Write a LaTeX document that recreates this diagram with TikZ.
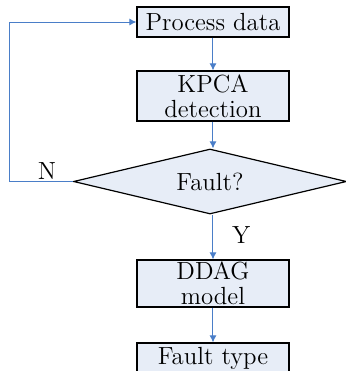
\documentclass[tikz,border=0pt]{standalone}
\usepackage{fontspec}
\usepackage{tikz}
\usetikzlibrary{shapes.geometric,arrows.meta,positioning}
\usepackage{xcolor}
\definecolor{boxfill}{HTML}{E7EDF7}
\definecolor{flowblue}{HTML}{4A7EC8}

\begin{document}
\begin{tikzpicture}[
    x=0.5pt, y=-0.5pt,
    every node/.style={font=\rmfamily\fontsize{12.4}{12.5}\selectfont, text=black},
    block/.style={rectangle, draw, line width=0.6pt, fill=boxfill, minimum width=76pt, inner sep=0pt, align=center},
    decision/.style={diamond, draw, line width=0.6pt, fill=boxfill, aspect=4.2, minimum width=136.5pt, minimum height=32.5pt, inner sep=0pt},
    arrow/.style={-{Latex[length=3.5pt,width=3.5pt]}, flowblue, line width=0.5pt}
]
    \clip (0,0) rectangle (346,371);

    % Boxes
    \node[block, minimum height=15pt] (data) at (213, 22) {Process data};
    \node[block, minimum height=25pt] (kpca) at (213, 96) {KPCA\\detection};
    \node[decision] (fault) at (210, 181.5) {Fault?};
    \node[block, minimum height=23.5pt] (ddag) at (213, 283.5) {DDAG\\model};
    \node[block, minimum height=15pt] (type) at (213, 358) {Fault type};

    % Arrows
    \draw[arrow] (data) -- (kpca);
    \draw[arrow] (kpca.south) -- (kpca.south |- fault.north);
    \draw[arrow] (fault.south -| ddag.north) -- (ddag.north) node[pos=0.45, right=6pt] (yes) {Y};
    \draw[arrow] (ddag) -- (type);

    % Loop back on N
    \coordinate (back) at (10, 181.5);
    \draw[arrow] (fault.west) -- (back) |- (data.west);
    \node (no) at (47, 171) {N};
\end{tikzpicture}
\end{document}
